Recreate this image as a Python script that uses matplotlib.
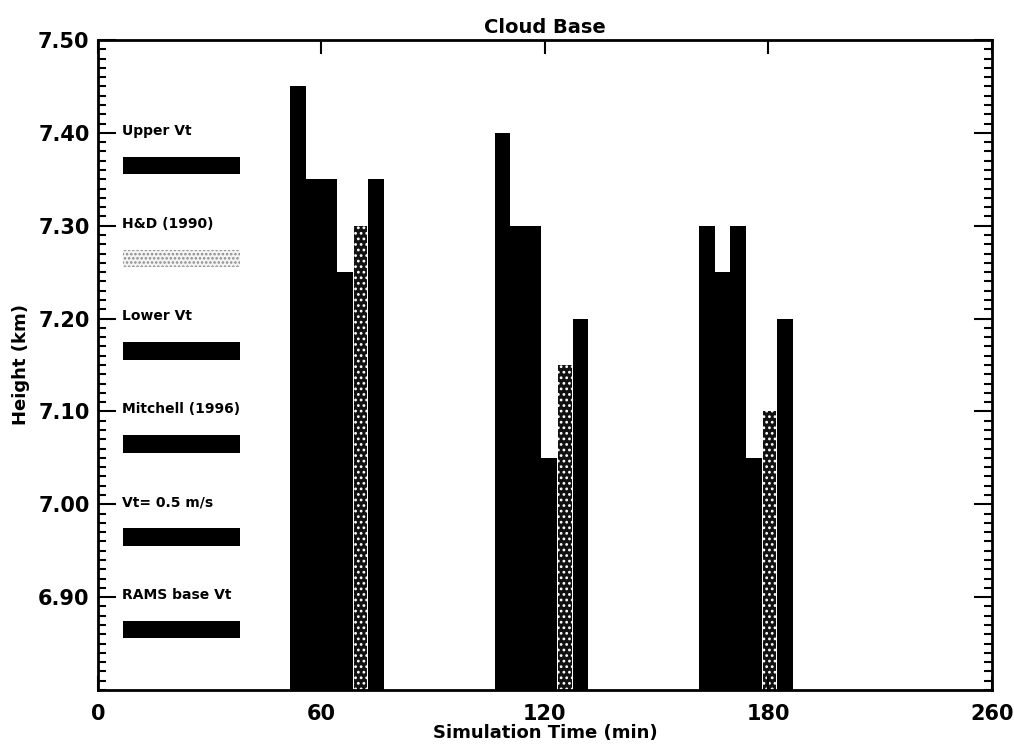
import numpy as np
import matplotlib
matplotlib.use("Agg")
import matplotlib.pyplot as plt

# series in legend order (top to bottom)
series = ["Upper Vt", "H&D (1990)", "Lower Vt", "Mitchell (1996)",
          "Vt= 0.5 m/s", "RAMS base Vt"]
legend_levels = [7.40, 7.30, 7.20, 7.10, 7.00, 6.90]

# centre of each group of bars (axis units)
group_times = [69.5, 129.0, 188.5]

# cloud base height (km) per series, one value per group
upper_vt = [7.35, 7.20, 7.20]
hd_1990 = [7.30, 7.15, 7.10]
lower_vt = [7.25, 7.05, 7.05]
mitchell = [7.35, 7.30, 7.30]
vt_05 = [7.35, 7.30, 7.25]
rams_base = [7.45, 7.40, 7.30]

xtick_pos = [0, 65, 130, 195, 260]
xtick_labels = ["0", "60", "120", "180", "260"]
ytick_pos = [6.90, 7.00, 7.10, 7.20, 7.30, 7.40, 7.50]

y_min, y_max = 6.80, 7.50
bar_w = 4.55

plt.rcParams["font.family"] = "DejaVu Sans"
plt.rcParams["font.weight"] = "bold"
plt.rcParams["hatch.linewidth"] = 1.2

fig = plt.figure(figsize=(10.14, 7.5), dpi=100)
ax = fig.add_axes([0.0966, 0.08, 0.8816, 0.8667])

values = {
    "Upper Vt": upper_vt,
    "H&D (1990)": hd_1990,
    "Lower Vt": lower_vt,
    "Mitchell (1996)": mitchell,
    "Vt= 0.5 m/s": vt_05,
    "RAMS base Vt": rams_base,
}

# bars are drawn left to right in reverse legend order
draw_order = series[::-1]
centers = np.array(group_times)
for i, name in enumerate(draw_order):
    x = centers + (i - 2.5) * bar_w
    h = np.array(values[name]) - y_min
    if name == "H&D (1990)":
        ax.bar(x, h, bottom=y_min, width=bar_w * 0.86, color="#111111",
               edgecolor="white", hatch="...", linewidth=0)
    else:
        ax.bar(x, h, bottom=y_min, width=bar_w, color="black",
               linewidth=0)

# legend drawn inside the axes
for name, lev in zip(series, legend_levels):
    ax.text(7.0, lev - 0.002, name, fontsize=10, fontweight="bold",
            va="baseline", ha="left")
    if name == "H&D (1990)":
        ax.barh(lev - 0.035, 34, left=7.3, height=0.018, color="#f4f4f4",
                edgecolor="#8a8a8a", hatch="....", linewidth=0)
    else:
        ax.barh(lev - 0.035, 34, left=7.3, height=0.019, color="black",
                linewidth=0)

ax.set_xlim(0, 260)
ax.set_ylim(y_min, y_max)
ax.set_xticks(xtick_pos)
ax.set_xticklabels(xtick_labels)
ax.set_yticks(ytick_pos)
ax.set_yticklabels(["%.2f" % v for v in ytick_pos])
ax.set_yticks(np.arange(6.80, 7.505, 0.01), minor=True)

ax.tick_params(axis="x", which="major", direction="in", length=10,
               width=1.5, top=True, labelsize=15, pad=10)
ax.tick_params(axis="y", which="major", direction="in", length=13,
               width=1.5, right=True, labelsize=15, pad=6)
ax.tick_params(axis="y", which="minor", direction="in", length=6,
               width=1.5, right=True)
for lab in ax.get_xticklabels() + ax.get_yticklabels():
    lab.set_fontweight("bold")

for sp in ax.spines.values():
    sp.set_linewidth(2)

ax.set_title("Cloud Base", fontsize=14, fontweight="bold", pad=5)
ax.set_xlabel("Simulation Time (min)", fontsize=13, fontweight="bold",
              labelpad=0)
ax.set_ylabel("Height (km)", fontsize=13, fontweight="bold", labelpad=6)

fig.savefig("out.png", dpi=100)
